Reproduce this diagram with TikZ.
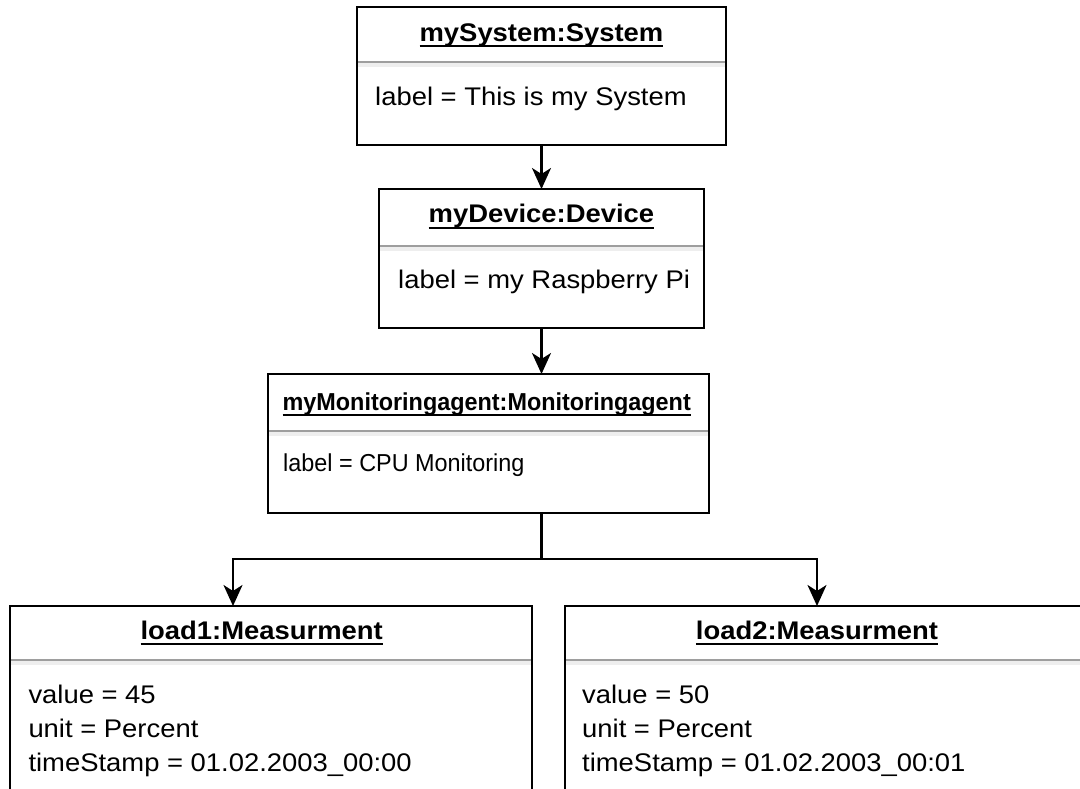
\documentclass[tikz,border=0pt]{standalone}
\usepackage{fontspec}
\setmainfont{Liberation Sans}[FakeStretch=1.075]
\newfontfamily\narrowsans{Liberation Sans}[FakeStretch=0.955]
\usetikzlibrary{arrows.meta}

% underlined object name
\newcommand\objname[1]{\setbox0=\hbox{#1}\rlap{\rule[-6pt]{\wd0}{2pt}}\box0}

\definecolor{sepdark}{HTML}{9E9E9E}
\definecolor{seplight}{HTML}{EEEEEE}

\tikzset{
  objbox/.style={draw=black, line width=2.5pt, rectangle, anchor=north west,
    inner sep=0pt, outer sep=0pt, fill=white},
  objtitle/.style={anchor=base, inner sep=0pt, text=black,
    font=\fontsize{25.5}{30}\selectfont\bfseries},
  objattr/.style={anchor=base west, inner sep=0pt, text=black,
    font=\fontsize{25.5}{30}\selectfont},
  narrowtitle/.style={objtitle, font=\narrowsans\fontsize{24.5}{29}\selectfont\bfseries},
  narrowattr/.style={objattr, font=\narrowsans\fontsize{24.5}{29}\selectfont},
  link/.style={draw=black, line width=2.2pt,
    -{Stealth[length=21pt, width=19pt, inset=6pt]}},
  plainlink/.style={draw=black, line width=2.2pt},
}

% separator between name and attribute compartments: node, y position
\newcommand\objsep[2]{%
  \fill[seplight] ([xshift=1.25pt]#1.west |- 0,#2) rectangle ([xshift=-1.25pt]#1.east |- 0,#2+4.5);
  \draw[sepdark, line width=2pt] ([xshift=1.25pt]#1.west |- 0,#2) -- ([xshift=-1.25pt]#1.east |- 0,#2);
}

\begin{document}
\begin{tikzpicture}[x=1pt, y=-1pt]
  \useasboundingbox (0,0) rectangle (1080,789);
  \fill[white] (0,0) rectangle (1080,789);

  % mySystem
  \node[objbox, minimum width=369pt, minimum height=138pt] (sys) at (357,7) {};
  \objsep{sys}{62.5}
  \node[objtitle] (sysT) at (541.5,41.5) {\objname{mySystem:System}};
  \node[objattr] (sysL) at (375,106) {label = This is my System};

  % myDevice
  \node[objbox, minimum width=325pt, minimum height=139pt] (dev) at (379,189) {};
  \objsep{dev}{246}
  \node[objtitle] (devT) at (541.5,222.7) {\objname{myDevice:Device}};
  \node[objattr] (devL) at (398,288.3) {label = my Raspberry Pi};

  % myMonitoringagent
  \node[objbox, minimum width=441pt, minimum height=139pt] (mon) at (268,374) {};
  \objsep{mon}{431}
  \node[narrowtitle] (monT) at (486.7,410) {\objname{myMonitoringagent:Monitoringagent}};
  \node[narrowattr] (monL) at (283,471.5) {label = CPU Monitoring};

  % load1
  \node[objbox, minimum width=522pt, minimum height=220pt] (m1) at (10,606) {};
  \objsep{m1}{660}
  \node[objtitle] (m1T) at (261.7,639) {\objname{load1:Measurment}};
  \node[objattr] (m1v) at (28.3,703.3) {value = 45};
  \node[objattr] (m1u) at (28.3,737.3) {unit = Percent};
  \node[objattr] (m1t) at (28.3,771) {timeStamp = 01.02.2003\_00:00};

  % load2
  \node[objbox, minimum width=530pt, minimum height=220pt] (m2) at (565,606) {};
  \objsep{m2}{660}
  \node[objtitle] (m2T) at (817,639) {\objname{load2:Measurment}};
  \node[objattr] (m2v) at (582,703.3) {value = 50};
  \node[objattr] (m2u) at (582,737.3) {unit = Percent};
  \node[objattr] (m2t) at (582,771) {timeStamp = 01.02.2003\_00:01};

  % connectors
  \coordinate (split) at (541.5,559);
  \coordinate (toL) at (233,559);
  \coordinate (toR) at (817,559);
  \draw[link] (sys.south) -- (dev.north);
  \draw[link] (dev.south) -- (dev.south |- mon.north);
  \draw[plainlink] (split |- mon.south) -- (split);
  \draw[link] (split) -- (toL) -- (toL |- m1.north);
  \draw[link] (split) -- (toR) -- (toR |- m2.north);
\end{tikzpicture}
\end{document}
